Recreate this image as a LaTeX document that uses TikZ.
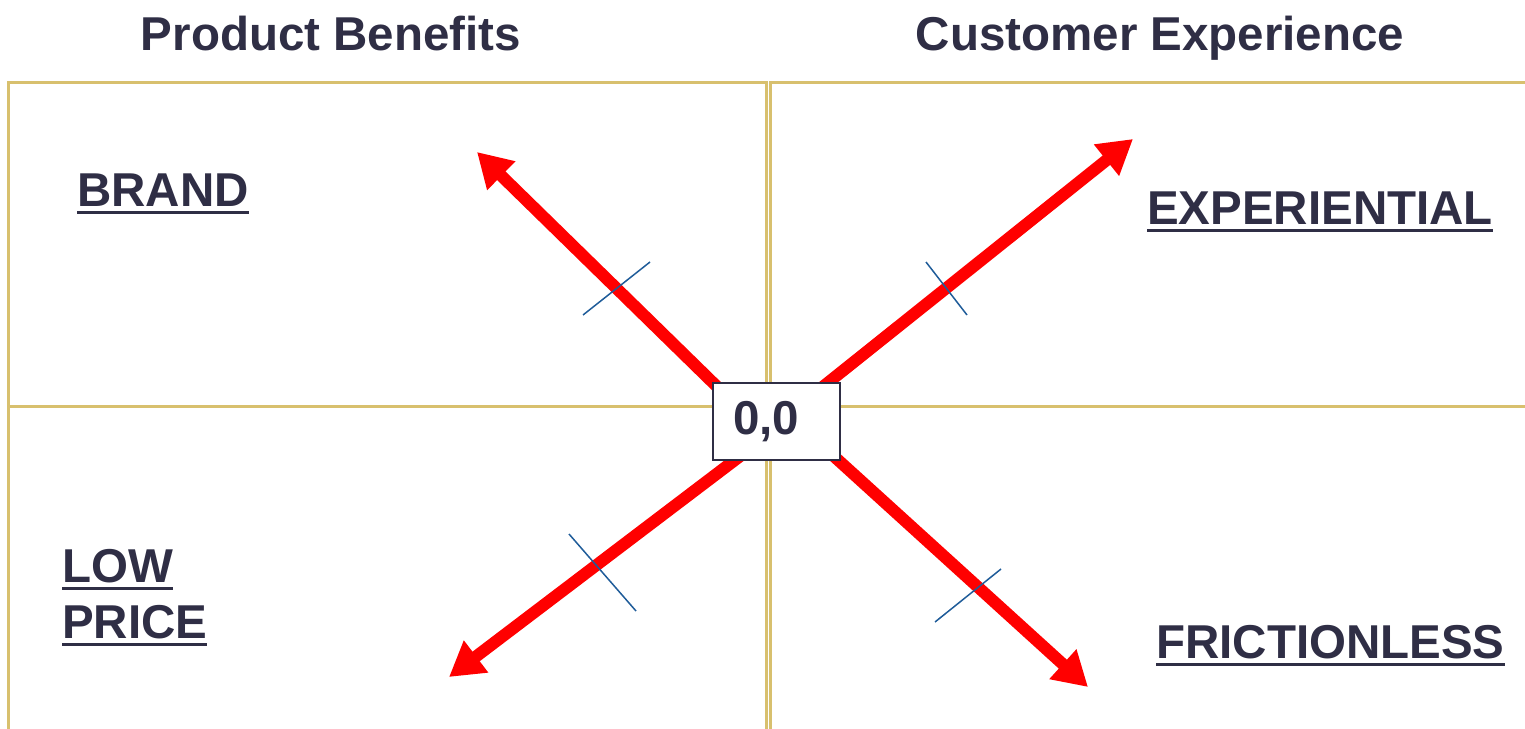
\documentclass[tikz,border=0pt]{standalone}
\usepackage{fontspec}
\setmainfont{Liberation Sans}
\usetikzlibrary{arrows.meta}

\definecolor{inkblue}{RGB}{47,46,69}
\definecolor{gridgold}{RGB}{216,192,110}
\definecolor{axisred}{RGB}{255,0,0}
\definecolor{tickblue}{RGB}{31,92,153}

% underlined label text
\newcommand\ulabel[1]{\setbox0\hbox{#1}\rlap{\rule[-8pt]{\wd0}{3pt}}\box0}

\tikzset{
  grid/.style={draw=gridgold, line width=3pt},
  axis/.style={draw=axisred, line width=12pt,
    -{Triangle[length=34pt,width=38pt]}},
  tickmark/.style={draw=tickblue, line width=1.5pt},
  heading/.style={inner sep=0pt, anchor=base, text=inkblue,
    font=\fontsize{47.5}{50}\selectfont\bfseries},
  label/.style={inner sep=0pt, anchor=base west, text=inkblue,
    font=\fontsize{47.5}{50}\selectfont\bfseries},
  origin/.style={draw=inkblue, fill=white, line width=2pt,
    minimum width=127pt, minimum height=77pt, inner xsep=20pt,
    text width=87pt, align=left, text=inkblue,
    font=\fontsize{47.5}{50}\selectfont\bfseries}
}

\begin{document}
\begin{tikzpicture}[x=1pt,y=-1pt]
\useasboundingbox (0,0) rectangle (1525,728);

% quadrant frames
\draw[grid] (766,740) -- (766,82) -- (8,82) -- (8,740);
\draw[grid] (770,740) -- (770,82) -- (1540,82);
\draw[grid] (8,406) -- (766,406);
\draw[grid] (770,406) -- (1540,406);

% headings
\node[heading] (hprod) at (331,50) {Product Benefits};
\node[heading] (hcust) at (1160,50) {Customer Experience};

% quadrant labels
\node[label] (brand) at (77,206) {\ulabel{BRAND}};
\node[label] (exper) at (1147,224) {\ulabel{EXPERIENTIAL}};
\node[label] (low) at (62,582) {\ulabel{LOW}};
\node[label] (price) at (62,638) {\ulabel{PRICE}};
\node[label] (frict) at (1156,658) {\ulabel{FRICTIONLESS}};

% axis end points
\coordinate (tlS) at (745,414);  \coordinate (tlE) at (477,152);
\coordinate (trS) at (800,405);  \coordinate (trE) at (1133,139);
\coordinate (blS) at (760,441);  \coordinate (blE) at (449,677);
\coordinate (brS) at (805,430);  \coordinate (brE) at (1088,687);

% axes
\draw[axis] (tlS) -- (tlE);
\draw[axis] (trS) -- (trE);
\draw[axis] (blS) -- (blE);
\draw[axis] (brS) -- (brE);

% tick marks across the axes
\draw[tickmark] (583,315) -- (650,262);
\draw[tickmark] (926,262) -- (967,315);
\draw[tickmark] (569,534) -- (636,611);
\draw[tickmark] (935,622) -- (1001,569);

% origin box
\node[origin] (zero) at (776.5,421.5) {0,0};
\end{tikzpicture}
\end{document}
